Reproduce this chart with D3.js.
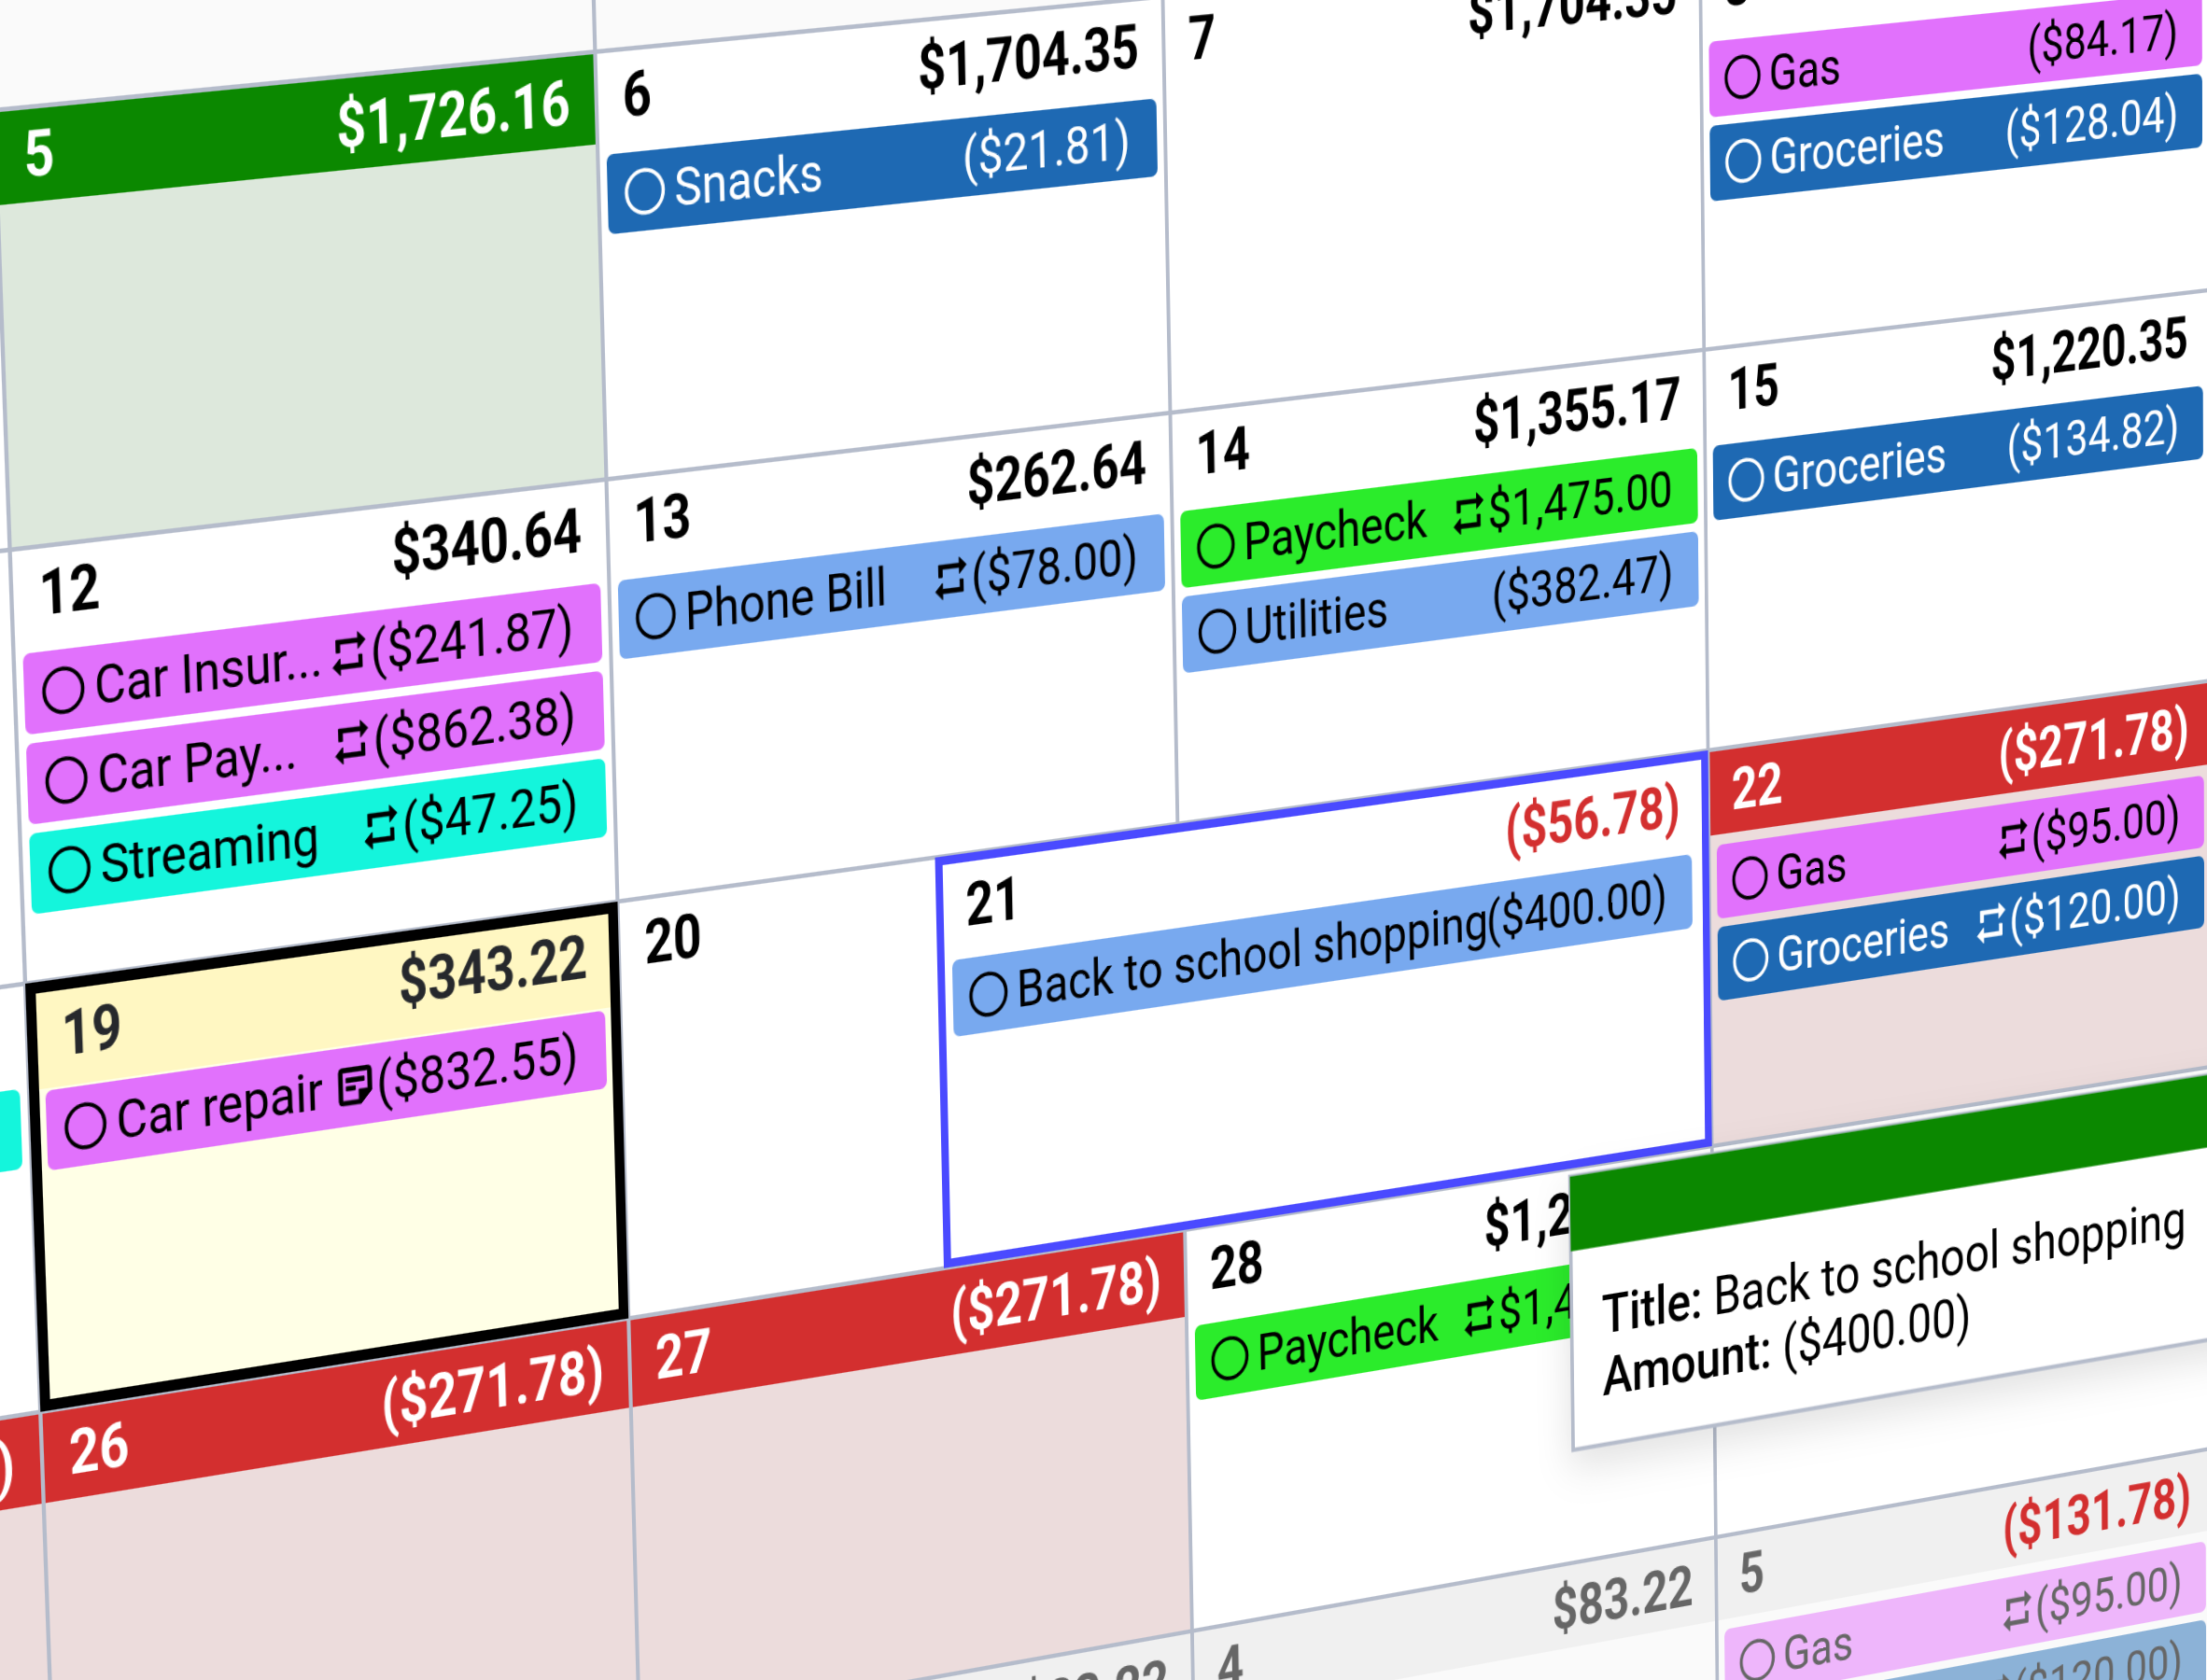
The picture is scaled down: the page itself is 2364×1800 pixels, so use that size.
<!DOCTYPE html>
<html>
  <head>
    <meta http-equiv="Content-Type" content="text/html; charset=utf-8">
    <title>Budget calendar</title>
    <style>
        html, body {
          margin: 0;
          width: 2364px;
          height: 1800px;
          overflow: hidden;
          background-color: #fff;
        }
        #view {
          position: absolute;
          left: 0;
          top: 0;
          width: 2364px;
          height: 1800px;
          overflow: hidden;
          filter: blur(0.5px);
        }
        #cal {
          position: absolute;
          left: 0;
          top: 0;
          transform-origin: 0 0;
          font-family: Roboto, sans-serif;
        }
    </style>
  </head>

  <body>
    <div id="view"><svg id="cal"></svg></div>

    <script src="https://cdnjs.cloudflare.com/ajax/libs/d3/7.8.5/d3.min.js"></script>
    <script>
    // Day cells
    var cellCol     = [0, 1, 2, 3, 0, 1, 2, 3, -1, 0, 1, 3, -1, 0, 1, 2, 1, 2, 3];
    var cellRow     = [0, 0, 0, 0, 1, 1, 1, 1, 2, 2, 2, 2, 3, 3, 3, 3, 4, 4, 4];
    var cellDay     = ['5', '6', '7', '8', '12', '13', '14', '15', '18', '19', '20', '22', '25', '26', '27', '28', '3', '4', '5'];
    var cellBalance = ['$1,726.16', '$1,704.35', '$1,704.35', '$1,492.14', '$340.64', '$262.64', '$1,355.17', '$1,220.35',
                       '', '$343.22', '', '($271.78)', '($271.78)', '($271.78)', '($271.78)', '$1,203.22', '$83.22', '$83.22', '($131.78)'];
    var cellTone    = ['good', '', '', '', '', '', '', '', '', 'today', '', 'bad', 'bad', 'bad', 'bad', '', 'muted', 'muted', 'muted'];

    // Transactions, keyed to the cell by index + slot
    var pillCell   = [1, 3, 3, 4, 4, 4, 5, 6, 6, 7, 8, 9, 11, 11, 15, 18, 18];
    var pillSlot   = [0, 0, 1, 0, 1, 2, 0, 0, 1, 0, 0, 0, 0, 1, 0, 0, 1];
    var pillTitle  = ['Snacks', 'Gas', 'Groceries', 'Car Insur...', 'Car Pay...', 'Streaming', 'Phone Bill', 'Paycheck', 'Utilities',
                      'Groceries', '', 'Car repair', 'Gas', 'Groceries', 'Paycheck', 'Gas', 'Groceries'];
    var pillAmount = ['($21.81)', '($84.17)', '($128.04)', '($241.87)', '($862.38)', '($47.25)', '($78.00)', '$1,475.00', '($382.47)',
                      '($134.82)', '', '($832.55)', '($95.00)', '($120.00)', '$1,475.00', '($95.00)', '($120.00)'];
    var pillKind   = ['dark', 'car', 'dark', 'car', 'car', 'media', 'light', 'income', 'light', 'dark', 'media', 'car', 'car', 'dark', 'income', 'car', 'dark'];
    var pillIcon   = ['', '', '', 'repeat', 'repeat', 'repeat', 'repeat', 'repeat', '', '', '', 'note', 'repeat', 'repeat', 'repeat', 'repeat', 'repeat'];

    // The wide hovered cell
    var hoverDay = '21', hoverBalance = '($56.78)', hoverTitle = 'Back to school shopping', hoverAmount = '($400.00)';
    var tipLines = [['Title:', 'Back to school shopping'], ['Amount:', '($400.00)']];

    var kindFill = {dark: '#1e69b3', light: '#78a9ef', car: '#e171fc', income: '#2bec2b', media: '#14f5dc'};
    var kindText = {dark: '#fff', light: '#000', car: '#000', income: '#000', media: '#000'};
    var toneHead = {good: '#0b8800', bad: '#d32f2f', today: '#fff7c2', muted: '#f0f0f0'};
    var toneBody = {good: '#dde8dc', bad: '#ecdcdc', today: '#ffffe6', muted: '#fafafa'};

    var iconPath = {
      repeat: 'M17,17H7V14L3,18L7,22V19H19V13H17M7,7H17V10L21,6L17,2V5H5V11H7V7Z',
      note: 'M19 3H5a2 2 0 0 0-2 2v14a2 2 0 0 0 2 2h10l6-6V5a2 2 0 0 0-2-2zM5 19V5h14v9h-5v5H5zm2-9h10V8H7v2zm0 4h5v-2H7v2z'
    };

    var cellW = 600, cellH = 381, headH = 82, boldSize = 56, boldSqueeze = 0.93;
    var x = d3.scaleLinear().domain([-1, 5]).range([0, 6 * cellW]);
    var y = d3.scaleLinear().domain([-1, 6]).range([0, 7 * cellH]);

    // Grid crossings: [col line, row line, px, py]
    var anchors = [
      [1, 0, 638, 55.5], [0, 1, 11, 591], [1, 1, 650, 513], [3, 1, 1825, 373],
      [0, 2, 25.5, 1053], [1, 2, 662, 965], [2, 2, 1260, 881], [3, 2, 1829, 806],
      [0, 3, 43, 1513], [1, 3, 674, 1413], [2, 3, 1268.5, 1318], [3, 3, 1833, 1230],
      [2, 4, 1277, 1746], [3, 4, 1838.5, 1646]
    ];

    // least squares homography, h33 = 1
    function fitHomography(pts) {
      var A = d3.range(8).map(function() { return d3.range(9).map(function() { return 0; }); });
      function add(r, b) {
        for (var i = 0; i < 8; i++) {
          for (var j = 0; j < 8; j++) A[i][j] += r[i] * r[j];
          A[i][8] += r[i] * b;
        }
      }
      pts.forEach(function(p) {
        var u = x(p[0]), v = y(p[1]);
        add([u, v, 1, 0, 0, 0, -u * p[2], -v * p[2]], p[2]);
        add([0, 0, 0, u, v, 1, -u * p[3], -v * p[3]], p[3]);
      });
      for (var c = 0; c < 8; c++) {
        var best = c;
        for (var r = c + 1; r < 8; r++) if (Math.abs(A[r][c]) > Math.abs(A[best][c])) best = r;
        var t = A[c]; A[c] = A[best]; A[best] = t;
        for (var r2 = 0; r2 < 8; r2++) {
          if (r2 === c) continue;
          var f = A[r2][c] / A[c][c];
          for (var k = c; k < 9; k++) A[r2][k] -= f * A[c][k];
        }
      }
      return A.map(function(row, i) { return row[8] / row[i]; });
    }

    var h = fitHomography(anchors);
    var svg = d3.select('#cal')
      .attr('width', x.range()[1])
      .attr('height', y.range()[1])
      .style('transform', 'matrix3d(' + [h[0], h[3], 0, h[6], h[1], h[4], 0, h[7], 0, 0, 1, 0, h[2], h[5], 0, 1].join(',') + ')');

    // page background, previous month row
    svg.append('rect').attr('width', x.range()[1]).attr('height', y.range()[1]).attr('fill', '#fff');
    svg.append('rect').attr('width', x.range()[1]).attr('height', y(0)).attr('fill', '#fafafa');

    var cells = d3.range(cellDay.length).map(function(i) {
      return {col: cellCol[i], row: cellRow[i], day: cellDay[i], balance: cellBalance[i], tone: cellTone[i]};
    });

    // backgrounds
    var backs = svg.append('g');
    cells.filter(function(d) { return d.tone; }).forEach(function(d) {
      backs.append('rect').attr('x', x(d.col)).attr('y', y(d.row)).attr('width', cellW).attr('height', cellH).attr('fill', toneBody[d.tone]);
      backs.append('rect').attr('x', x(d.col)).attr('y', y(d.row)).attr('width', cellW)
        .attr('height', d.tone === 'today' ? headH + 13 : headH).attr('fill', toneHead[d.tone]);
    });

    // grid lines
    var grid = svg.append('g').attr('stroke', '#b5bccb').attr('stroke-width', 4);
    grid.selectAll('.v').data(d3.range(-1, 6)).join('line').attr('class', 'v')
      .attr('x1', x).attr('x2', x).attr('y1', 0).attr('y2', y.range()[1]);
    grid.selectAll('.h').data(d3.range(0, 6)).join('line').attr('class', 'h')
      .attr('x1', 0).attr('x2', x.range()[1]).attr('y1', y).attr('y2', y);

    function headColor(d) {
      if (d.tone === 'good' || d.tone === 'bad') return '#fff';
      if (d.tone === 'muted') return '#666';
      if (d.tone === 'today') return '#26282c';
      return '#000';
    }

    // the bold labels are a bit narrower than Roboto Bold
    function squeezed(tx, ty) {
      return 'translate(' + tx + ',' + ty + ') scale(' + boldSqueeze + ',1)';
    }

    var labels = svg.append('g').attr('font-weight', 700).attr('font-size', boldSize);
    labels.selectAll('.day').data(cells).join('text').attr('class', 'day')
      .attr('transform', function(d) {
        return squeezed(x(d.col) + (d.tone === 'today' ? 34 : 27), y(d.row) + (d.tone === 'today' ? 68 : 60));
      })
      .attr('fill', headColor)
      .text(function(d) { return d.day; });
    labels.selectAll('.bal').data(cells).join('text').attr('class', 'bal')
      .attr('transform', function(d) {
        return squeezed(x(d.col) + cellW - (d.tone === 'today' ? 33 : 27), y(d.row) + (d.tone === 'today' ? 65 : 62));
      })
      .attr('text-anchor', 'end')
      .attr('fill', function(d) { return d.tone === 'muted' && d.balance.charAt(0) === '(' ? '#d32f2f' : headColor(d); })
      .text(function(d) { return d.balance; });

    // one transaction bar
    function drawPill(parent, px, py, pw, title, amount, kind, icon, faded) {
      var ink = faded ? '#666' : kindText[kind];
      var g = parent.append('g').attr('transform', 'translate(' + px + ',' + py + ')');
      g.append('rect').attr('width', pw).attr('height', 71).attr('rx', 7)
        .attr('fill', kindFill[kind]).attr('opacity', faded ? 0.5 : 1);
      g.append('circle').attr('cx', 38.5).attr('cy', 36).attr('r', 19)
        .attr('fill', 'none').attr('stroke', ink).attr('stroke-width', 3.5);
      g.append('text').attr('x', 69).attr('y', 52).attr('font-size', 48).attr('fill', ink).text(title);
      var amt = g.append('text').attr('x', pw - 29).attr('y', 52).attr('font-size', 48)
        .attr('text-anchor', 'end').attr('fill', ink).text(amount);
      if (icon) {
        var w = amt.node().getComputedTextLength();
        g.append('path').attr('d', iconPath[icon]).attr('fill', ink)
          .attr('stroke', ink).attr('stroke-width', 0.5)
          .attr('transform', 'translate(' + (pw - 29 - w - 44) + ',13) scale(1.85)');
      }
    }

    var pills = svg.append('g');
    pillCell.forEach(function(ci, i) {
      var c = cells[ci];
      // no text: only the end of this bar shows at the left edge
      if (!pillTitle[i] && !pillAmount[i]) {
        pills.append('rect').attr('x', x(c.col) + 9).attr('y', y(c.row) + 92)
          .attr('width', cellW - 18).attr('height', 71).attr('rx', 7).attr('fill', kindFill[pillKind[i]]);
        return;
      }
      var today = c.tone === 'today';
      drawPill(pills, x(c.col) + (today ? 16 : 9), y(c.row) + (today ? 97 : 92) + pillSlot[i] * 79, cellW - (today ? 32 : 18),
        pillTitle[i], pillAmount[i], pillKind[i], pillIcon[i], c.tone === 'muted');
    });

    // today outline
    svg.append('rect').attr('x', x(0) + 5).attr('y', y(2) + 5)
      .attr('width', cellW - 10).attr('height', cellH - 10)
      .attr('fill', 'none').attr('stroke', '#000').attr('stroke-width', 10);

    // hovered cell, grown to the left over day 20
    var hoverLeft = x(1.56), hoverRight = x(3);
    var hover = svg.append('g');
    hover.append('rect').attr('x', hoverLeft + 4).attr('y', y(2) + 4)
      .attr('width', hoverRight - hoverLeft - 8).attr('height', cellH - 8)
      .attr('fill', '#fff').attr('stroke', '#4a4aff').attr('stroke-width', 8);
    hover.append('text').attr('transform', squeezed(hoverLeft + 32, y(2) + 67))
      .attr('font-weight', 700).attr('font-size', boldSize).text(hoverDay);
    hover.append('text').attr('transform', squeezed(hoverRight - 33, y(2) + 68)).attr('text-anchor', 'end')
      .attr('font-weight', 700).attr('font-size', boldSize).attr('fill', '#d32f2f').text(hoverBalance);
    drawPill(hover, hoverLeft + 16, y(2) + 97, hoverRight - hoverLeft - 36, hoverTitle, hoverAmount, 'light', '', false);

    // tooltip
    var tipX = x(2.725), tipY = y(3.02), tipW = 1200, tipH = 264;
    var tip = svg.append('g').style('filter', 'drop-shadow(0 14px 20px rgba(0,0,0,0.12))');
    tip.append('rect').attr('x', tipX).attr('y', tipY).attr('width', tipW).attr('height', tipH)
      .attr('fill', '#fff').attr('stroke', '#b5bccb').attr('stroke-width', 4);
    tip.append('rect').attr('x', tipX).attr('y', tipY).attr('width', tipW).attr('height', 72).attr('fill', '#0b8800');
    tipLines.forEach(function(l, i) {
      var t = tip.append('text').attr('x', tipX + 35).attr('y', tipY + 156 + i * 60).attr('font-size', 52).attr('fill', '#000');
      t.append('tspan').attr('font-weight', 500).text(l[0] + ' ');
      t.append('tspan').text(l[1]);
    });
    </script>
  </body>
</html>
